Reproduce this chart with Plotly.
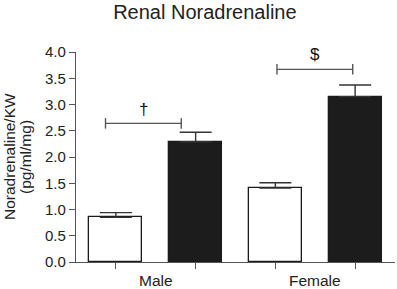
import plotly.graph_objects as go

groups = ["Male", "Female"]
bar_x = [0, 1, 2, 3]
values = [0.85, 2.29, 1.41, 3.15]
errors = [0.09, 0.18, 0.10, 0.22]
fills = ["white", "#1c1c1c", "white", "#1c1c1c"]
group_centers = [0.5, 2.5]

brackets = [(-0.13, 0.82, 2.64, "†"), (2.02, 2.97, 3.67, "$")]
mark_y = [2.90, 3.95]

y_title_lines = ["Noradrenaline/KW", "(pg/ml/mg)"]

FONT = "Liberation Sans, Arial, sans-serif"

fig = go.Figure()
fig.add_trace(go.Bar(
    x=bar_x, y=values, width=0.665,
    marker=dict(color=fills, line=dict(color="#1a1a1a", width=1.3)),
    error_y=dict(type="data", symmetric=False, array=errors,
                 arrayminus=[0]*4, color="#333333", thickness=1.4, width=16),
    showlegend=False, hoverinfo="skip",
))

shapes = []
annotations = []
for (x0, x1, y, txt), ty in zip(brackets, mark_y):
    shapes.append(dict(type="line", x0=x0, x1=x1, y0=y, y1=y,
                       line=dict(color="#555555", width=1.4)))
    for xx in (x0, x1):
        shapes.append(dict(type="line", x0=xx, x1=xx, y0=y - 0.1, y1=y + 0.1,
                           line=dict(color="#555555", width=1.4)))
    annotations.append(dict(x=(x0 + x1) / 2, y=ty, text=txt, showarrow=False,
                            font=dict(size=17, color="#111", family=FONT)))

for xc, g in zip(group_centers, groups):
    annotations.append(dict(x=xc, y=0, xref="x", yref="y", text=g, showarrow=False,
                            yanchor="middle", yshift=-18,
                            font=dict(size=15.5, color="#222", family=FONT)))

for i, line in enumerate(y_title_lines):
    annotations.append(dict(x=0, y=0.5, xref="paper", yref="paper", text=line,
                            showarrow=False, textangle=-90, xanchor="center",
                            yanchor="middle", xshift=-67 + 16 * i,
                            font=dict(size=15.5, color="#222", family=FONT)))

fig.update_layout(
    width=397, height=289,
    margin=dict(l=76, r=2, t=52, b=27),
    paper_bgcolor="white", plot_bgcolor="white",
    font=dict(family=FONT, size=15, color="#222222"),
    title=dict(text="Renal Noradrenaline", x=0.516, xanchor="center",
               y=0.958, yanchor="middle", font=dict(size=20, family=FONT)),
    shapes=shapes, annotations=annotations,
    bargap=0,
)
fig.update_xaxes(
    range=[-0.5, 3.5], showline=True, linecolor="#555555", linewidth=1.4,
    tickmode="array", tickvals=[0, 1, 2, 3], showticklabels=False,
    ticks="outside", ticklen=6, tickcolor="#555555", tickwidth=1.4,
    showgrid=False, zeroline=False, fixedrange=True,
)
fig.update_yaxes(
    range=[0, 4], showline=True, linecolor="#555555", linewidth=1.4,
    tickmode="array", tickvals=[0, 0.5, 1, 1.5, 2, 2.5, 3, 3.5, 4],
    ticktext=["0.0", "0.5", "1.0", "1.5", "2.0", "2.5", "3.0", "3.5", "4.0"],
    ticks="outside", ticklen=6, tickcolor="#555555", tickwidth=1.4,
    tickfont=dict(size=15),
    showgrid=False, zeroline=False,
)

fig.write_html("out.html", config={"displayModeBar": False},
               post_script="document.body.style.margin='0';document.body.style.overflow='hidden';")
